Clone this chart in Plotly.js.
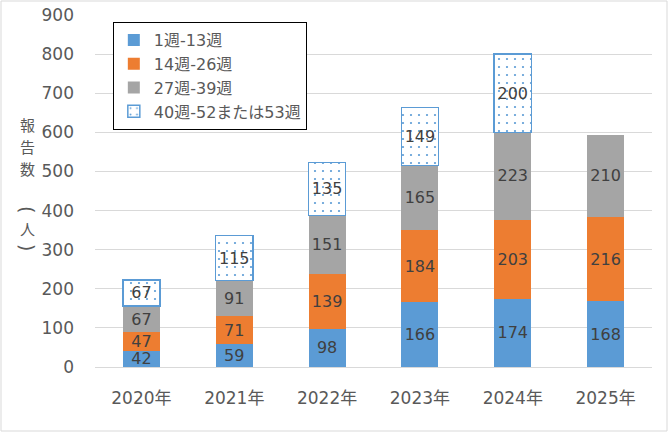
<!DOCTYPE html>
<html><head><meta charset="utf-8">
<script src="https://cdn.plot.ly/plotly-3.0.1.min.js"></script>
<style>html,body{margin:0;padding:0;background:#fff}#c{width:668px;height:432px}</style>
</head><body><div id="c"></div>
<script>
const years = ["2020年","2021年","2022年","2023年","2024年","2025年"];
const names = ["1週-13週","14週-26週","27週-39週","40週-52または53週"];
const q1 = [42,59,98,166,174,168];
const q2 = [47,71,139,184,203,216];
const q3 = [67,91,151,165,223,210];
const q4 = [67,115,135,149,200,null];
const yTitleChars = ["報","告","数","(","人",")"];
const colors = ["#5B9BD5","#ED7D31","#A5A5A5","#FFFFFF"];
const font = "DejaVu Sans, Noto Sans CJK JP, sans-serif";
const cjk = "Noto Sans CJK JP, sans-serif";
const series = [q1,q2,q3,q4];
const traces = series.map((v,i)=>{
  const t = {
    type:'bar', x:years, y:v, name:names[i],
    text:v.map(d=>d==null?'':String(d)),
    textposition:'inside', insidetextanchor:'middle', textangle:0, constraintext:'none',
    textfont:{color:'#404040', size:16, family:font},
    marker:{color:colors[i], line:{width:0}},
    hoverinfo:'skip'
  };
  if(i===3){
    t.marker = {color:'#FFFFFF', line:{color:'#5B9BD5', width:1.5},
      pattern:{shape:'.', fgcolor:'#5B9BD5', bgcolor:'#FFFFFF', size:8, solidity:0.06}};
  }
  return t;
});
const titlePos = [124,146,168,209,228,247];
const annotations = yTitleChars.map((c,i)=>{
  const paren = (c==='('||c===')');
  return {xref:'paper', yref:'paper', x:(27-95)/557, y:(367-titlePos[i])/352, xanchor:'center', yanchor:'middle',
    text:c, showarrow:false, textangle: paren?90:0, borderpad:0,
    font:{size: paren?19:15, color:'#595959', family: paren?"DejaVu Sans":cjk}};
});
const layout = {
  width:668, height:432,
  margin:{l:95, r:16, t:15, b:65},
  barmode:'stack', bargap:0.6,
  paper_bgcolor:'#fff', plot_bgcolor:'#fff',
  font:{family:font, color:'#595959', size:17},
  uniformtext:{mode:'show', minsize:16},
  xaxis:{showgrid:false, showline:true, linecolor:'#D9D9D9', ticks:'', ticklabelstandoff:16, tickfont:{size:17, color:'#595959'}},
  yaxis:{range:[0,900], dtick:100, showgrid:true, gridcolor:'#D9D9D9', zeroline:false,
    showline:false, ticks:'', ticklabelstandoff:20, tickfont:{size:17, color:'#595959'}},
  legend:{x:0.032, y:0.98, xanchor:'left', yanchor:'top', bgcolor:'#fff',
    bordercolor:'#000', borderwidth:1, traceorder:'normal', itemwidth:30, tracegroupgap:0,
    font:{size:16, color:'#595959'}},
  annotations:annotations,
  shapes:[{type:'rect', xref:'paper', yref:'paper', x0:(1-95)/557, x1:(667-95)/557, y0:(367-431)/352, y1:(367-1)/352,
    line:{color:'#D9D9D9', width:1}, fillcolor:'rgba(0,0,0,0)', layer:'below'}]
};
Plotly.newPlot('c', traces, layout, {displayModeBar:false, staticPlot:true});
</script></body></html>
